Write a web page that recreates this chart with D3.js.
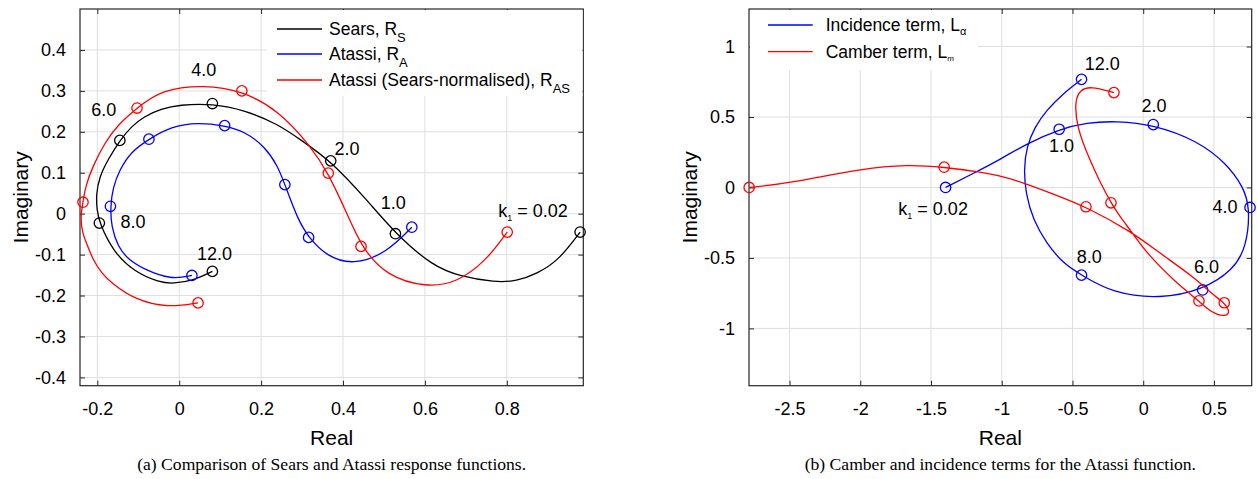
<!DOCTYPE html>
<html><head><meta charset="utf-8">
<script src="https://cdn.jsdelivr.net/npm/d3@7"></script>
<style>
body{margin:0;background:#fff}
svg text{font-family:"Liberation Sans",Arial,Helvetica,sans-serif;fill:#000}
</style>
</head><body>
<svg id="chart" width="1257" height="479"></svg>
<script>
// ---------------- DATA ----------------
// (a) Sears / Atassi response functions (Real, Imag), ordered by reduced frequency k1
const searsRe = [0.979,0.926,0.873,0.824,0.771,0.686,0.62,0.528,0.458,0.370,0.30,0.241,0.160,0.081,0.0,-0.044,-0.085,-0.117,-0.145,-0.174,-0.195,-0.203,-0.201,-0.195,-0.161,-0.110,-0.048,-0.015,0.034,0.081];
const searsIm = [-0.045,-0.115,-0.147,-0.165,-0.168,-0.153,-0.129,-0.049,0.034,0.129,0.178,0.219,0.253,0.269,0.266,0.256,0.238,0.213,0.179,0.132,0.090,0.046,0.010,-0.023,-0.093,-0.142,-0.168,-0.171,-0.164,-0.141];
const searsMarks = [0,7,9,13,18,23,29];

const atassiRe = [0.568,0.506,0.425,0.36,0.316,0.29,0.258,0.241,0.209,0.160,0.111,0.046,-0.02,-0.074,-0.117,-0.146,-0.162,-0.168,-0.166,-0.15,-0.125,-0.084,-0.02,0.031];
const atassiIm = [-0.033,-0.096,-0.126,-0.104,-0.058,-0.015,0.071,0.116,0.164,0.201,0.215,0.223,0.213,0.182,0.152,0.107,0.063,0.018,-0.031,-0.08,-0.112,-0.137,-0.161,-0.151];
const atassiMarks = [0,4,6,10,13,17,23];

const normRe = [0.801,0.749,0.677,0.604,0.506,0.444,0.409,0.364,0.322,0.241,0.153,0.062,-0.044,-0.103,-0.150,-0.182,-0.211,-0.229,-0.235,-0.2415,-0.236,-0.223,-0.211,-0.190,-0.166,-0.109,-0.028,0.046];
const normIm = [-0.045,-0.116,-0.169,-0.18,-0.153,-0.08,0.002,0.099,0.164,0.254,0.300,0.315,0.303,0.258,0.217,0.173,0.116,0.067,0.028,-0.01,-0.05,-0.08,-0.112,-0.145,-0.169,-0.21,-0.230,-0.218];
const normMarks = [0,5,7,10,13,18,27];

// (b) Incidence and camber terms
const incRe = [-1.397,-1.2,-1.0,-0.825,-0.594,-0.40,-0.19,0.071,0.378,0.59,0.707,0.755,0.731,0.636,0.42,0.118,-0.212,-0.436,-0.566,-0.683,-0.778,-0.83,-0.844,-0.825,-0.766,-0.683,-0.566,-0.436];
const incIm = [0.0,0.1,0.205,0.31,0.413,0.46,0.472,0.446,0.335,0.17,0.004,-0.142,-0.421,-0.587,-0.727,-0.791,-0.751,-0.622,-0.539,-0.397,-0.232,-0.043,0.123,0.288,0.43,0.548,0.667,0.767];
const incMarks = [0,4,7,11,14,17,27];

const camRe = [-2.785,-2.51,-1.99,-1.66,-1.407,-1.155,-0.978,-0.849,-0.613,-0.405,-0.082,0.118,0.354,0.495,0.573,0.608,0.60,0.519,0.448,0.394,0.236,0.024,-0.082,-0.164,-0.228,-0.306,-0.377,-0.471,-0.483,-0.447,-0.377,-0.207];
const camIm = [0.0,0.028,0.135,0.163,0.144,0.11,0.075,0.033,-0.055,-0.137,-0.314,-0.467,-0.633,-0.764,-0.818,-0.87,-0.912,-0.906,-0.858,-0.805,-0.680,-0.467,-0.314,-0.208,-0.109,0.04,0.193,0.429,0.618,0.689,0.72,0.673];
const camMarks = [0,4,9,14,19,24,31];

// frequency annotations
const labelsA = ["k1 = 0.02","1.0","2.0","4.0","6.0","8.0","12.0"];
const labelsARe = [0.864,0.523,0.41,0.060,-0.184,-0.113,0.086];
const labelsAIm = [0.008,0.028,0.158,0.352,0.254,-0.019,-0.098];
const labelsB = ["k1 = 0.02","1.0","2.0","4.0","6.0","8.0","12.0"];
const labelsBRe = [-1.485,-0.577,0.076,0.578,0.448,-0.382,-0.289];
const labelsBIm = [-0.149,0.30,0.579,-0.138,-0.563,-0.492,0.879];

// axes ticks
const ticksAx = [-0.2,0,0.2,0.4,0.6,0.8];
const ticksAxLabels = ["-0.2","0","0.2","0.4","0.6","0.8"];
const ticksAy = [-0.4,-0.3,-0.2,-0.1,0,0.1,0.2,0.3,0.4];
const ticksAyLabels = ["-0.4","-0.3","-0.2","-0.1","0","0.1","0.2","0.3","0.4"];
const ticksBx = [-2.5,-2,-1.5,-1,-0.5,0,0.5];
const ticksBxLabels = ["-2.5","-2","-1.5","-1","-0.5","0","0.5"];
const ticksBy = [-1,-0.5,0,0.5,1];
const ticksByLabels = ["-1","-0.5","0","0.5","1"];

const legendA = [["Sears, R","S"],["Atassi, R","A"],["Atassi (Sears-normalised), R","AS"]];
const legendB = [["Incidence term, L","α"],["Camber term, L","m"]];
const captionA = "(a) Comparison of Sears and Atassi response functions.";
const captionB = "(b) Camber and incidence terms for the Atassi function.";

// ---------------- DRAW ----------------
const svg = d3.select("#chart");
svg.append("rect").attr("width",1257).attr("height",479).attr("fill","#fff");

function panel(cfg){
  const g = svg.append("g");
  const x = d3.scaleLinear().domain(cfg.xd).range([cfg.x0,cfg.x1]);
  const y = d3.scaleLinear().domain(cfg.yd).range([cfg.y1,cfg.y0]);
  // grid
  g.append("g").selectAll("line").data(cfg.tx).join("line")
    .attr("x1",d=>x(d)).attr("x2",d=>x(d)).attr("y1",cfg.y0).attr("y2",cfg.y1)
    .attr("stroke","#dfdfdf").attr("stroke-width",1);
  g.append("g").selectAll("line").data(cfg.ty).join("line")
    .attr("y1",d=>y(d)).attr("y2",d=>y(d)).attr("x1",cfg.x0).attr("x2",cfg.x1)
    .attr("stroke","#dfdfdf").attr("stroke-width",1);
  // axes via d3 axes (inner ticks)
  const bottom = d3.axisBottom(x).tickValues(cfg.tx).tickSizeInner(-5).tickSizeOuter(0)
      .tickFormat((d,i)=>cfg.txl[i]).tickPadding(17);
  const gb = g.append("g").attr("transform",`translate(0,${cfg.y1})`).call(bottom);
  const top = d3.axisTop(x).tickValues(cfg.tx).tickSizeInner(-5).tickSizeOuter(0).tickFormat("");
  const gt = g.append("g").attr("transform",`translate(0,${cfg.y0})`).call(top);
  const left = d3.axisLeft(y).tickValues(cfg.ty).tickSizeInner(-5).tickSizeOuter(0)
      .tickFormat((d,i)=>cfg.tyl[i]).tickPadding(14);
  const gl = g.append("g").attr("transform",`translate(${cfg.x0},0)`).call(left);
  const right = d3.axisRight(y).tickValues(cfg.ty).tickSizeInner(-5).tickSizeOuter(0).tickFormat("");
  const gr = g.append("g").attr("transform",`translate(${cfg.x1},0)`).call(right);
  [gb,gt,gl,gr].forEach(a=>{
    a.select(".domain").remove();
    a.selectAll("line").attr("stroke","#262626");
    a.selectAll("text").attr("font-size",18).attr("fill","#000")
     .style("font-family",'"Liberation Sans",Arial,sans-serif');
  });
  g.append("rect").attr("x",cfg.x0).attr("y",cfg.y0).attr("width",cfg.x1-cfg.x0)
    .attr("height",cfg.y1-cfg.y0).attr("fill","none").attr("stroke","#262626").attr("stroke-width",1.2);
  // axis titles
  g.append("text").attr("x",(cfg.x0+cfg.x1)/2).attr("y",445).attr("text-anchor","middle")
    .attr("font-size",21).text("Real");
  g.append("text").attr("transform",`translate(${cfg.x0-52},${(cfg.y0+cfg.y1)/2}) rotate(-90)`)
    .attr("text-anchor","middle").attr("font-size",21).text("Imaginary");
  // caption
  g.append("text").attr("x",(cfg.x0+cfg.x1)/2).attr("y",470).attr("text-anchor","middle")
    .style("font-family",'"Liberation Serif","Times New Roman",serif').attr("font-size",17.6)
    .text(cfg.caption);
  // series
  const line = d3.line().curve(d3.curveBasis);
  cfg.series.forEach(s=>{
    const pts = s.re.map((v,i)=>[x(v),y(s.im[i])]);
    g.append("path").attr("d",line(pts)).attr("fill","none").attr("stroke",s.color).attr("stroke-width",1.3);
    g.append("g").selectAll("circle").data(s.marks).join("circle")
      .attr("cx",i=>x(s.re[i])).attr("cy",i=>y(s.im[i])).attr("r",5.2)
      .attr("fill","none").attr("stroke",s.color).attr("stroke-width",1.3);
  });
  // frequency labels
  cfg.labels.forEach((t,i)=>{
    const tx = g.append("text").attr("x",x(cfg.lre[i])).attr("y",y(cfg.lim[i])).attr("dy","0.36em")
      .attr("text-anchor","middle").attr("font-size",18);
    if(t.startsWith("k1")){
      tx.append("tspan").text("k");
      tx.append("tspan").attr("font-size",9).attr("dy",4).text("1");
      tx.append("tspan").attr("dy",-4).text(t.slice(2));
    } else tx.text(t);
  });
  // legend
  const L = cfg.legend;
  g.append("rect").attr("x",L.x).attr("y",cfg.y0+1).attr("width",L.w).attr("height",L.h)
    .attr("fill","#fff");
  L.items.forEach((it,i)=>{
    const yy = L.ys[i];
    g.append("line").attr("x1",L.lx0).attr("x2",L.lx1).attr("y1",yy).attr("y2",yy)
      .attr("stroke",cfg.series[i].color).attr("stroke-width",1.3);
    const t = g.append("text").attr("x",L.tx).attr("y",yy).attr("dy","0.36em").attr("font-size",17.5);
    t.append("tspan").text(it[0]);
    t.append("tspan").attr("font-size",L.subSize[i]).attr("dy",L.subDy[i]).text(it[1]);
  });
}

panel({
  x0:80, x1:583.3, y0:9, y1:385.7,
  xd:[-0.2423,0.9868], yd:[-0.4203,0.5],
  tx:ticksAx, txl:ticksAxLabels, ty:ticksAy, tyl:ticksAyLabels,
  caption:captionA,
  series:[
    {re:searsRe, im:searsIm, marks:searsMarks, color:"#000000"},
    {re:atassiRe, im:atassiIm, marks:atassiMarks, color:"#0000ff"},
    {re:normRe, im:normIm, marks:normMarks, color:"#ff0000"}
  ],
  labels:labelsA, lre:labelsARe, lim:labelsAIm,
  legend:{x:267, w:315.5, h:86, lx0:277, lx1:322, tx:329, ys:[29,54,80],
          items:legendA, subSize:[13,13,13], subDy:[7,7,7]}
});

panel({
  x0:749, x1:1251.7, y0:9, y1:385.7,
  xd:[-2.7864,0.7668], yd:[-1.4065,1.2661],
  tx:ticksBx, txl:ticksBxLabels, ty:ticksBy, tyl:ticksByLabels,
  caption:captionB,
  series:[
    {re:incRe, im:incIm, marks:incMarks, color:"#0000ff"},
    {re:camRe, im:camIm, marks:camMarks, color:"#ff0000"}
  ],
  labels:labelsB, lre:labelsBRe, lim:labelsBIm,
  legend:{x:750, w:228, h:60, lx0:768, lx1:812.7, tx:825.7, ys:[25,51.7],
          items:legendB, subSize:[11,8], subDy:[4,3]}
});
</script>
</body></html>
